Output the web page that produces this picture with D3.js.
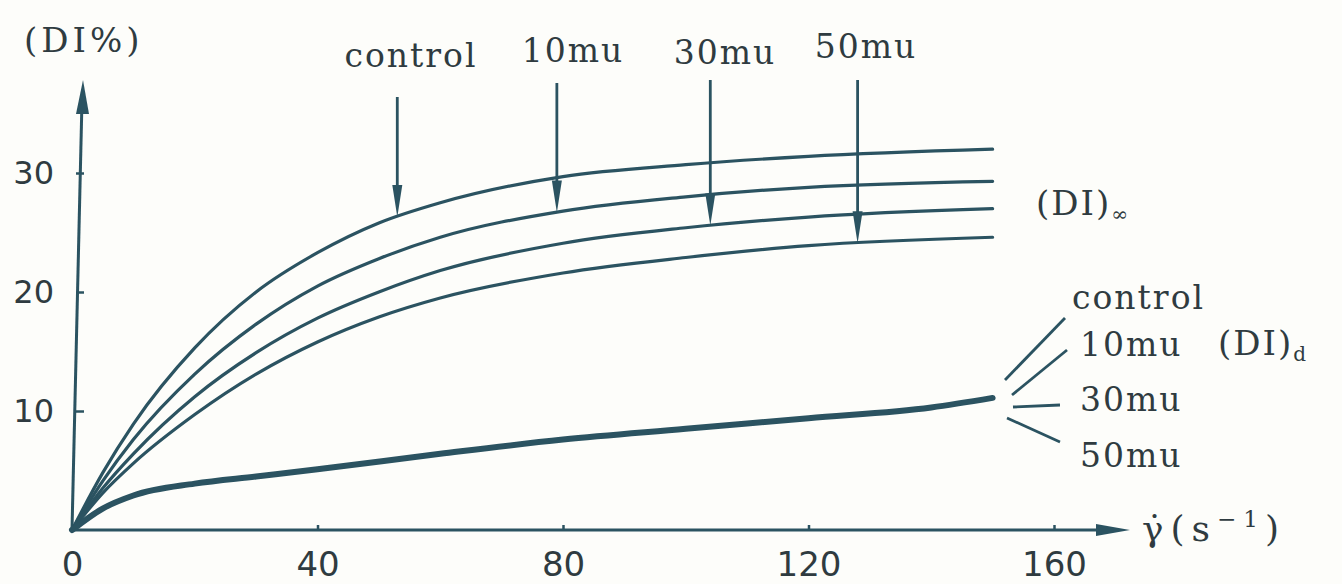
<!DOCTYPE html>
<html>
<head>
<meta charset="utf-8">
<script src="https://cdn.jsdelivr.net/npm/d3@7"></script>
<style>
  body { margin: 0; background: #fdfdfa; }
  svg { display: block; }
</style>
</head>
<body>
<svg></svg>
<script>
const width = 1342;
const height = 584;

// shear rate (s^-1) sample points
const gammaPts = [0, 5, 10, 20, 30, 40, 50, 60, 80, 100, 120, 150];
// (DI)inf curves, one per group
const diInfControl = [0, 4.8, 8.9, 15.3, 20.0, 23.3, 25.8, 27.5, 29.7, 30.7, 31.4, 32.0];
const diInf10mu    = [0, 4.1, 7.6, 13.1, 17.3, 20.5, 22.8, 24.6, 26.8, 28.0, 28.8, 29.3];
const diInf30mu    = [0, 3.5, 6.4, 11.2, 14.9, 17.8, 20.0, 21.8, 24.1, 25.4, 26.3, 27.0];
const diInf50mu    = [0, 3.1, 5.6, 9.7, 13.1, 15.8, 17.9, 19.5, 21.6, 22.9, 23.9, 24.6];
// (DI)d curve, all four groups overlap
const diDGamma = [0, 5, 10, 20, 30, 40, 60, 80, 100, 120, 140, 150];
const diD      = [0, 1.8, 2.9, 3.9, 4.5, 5.1, 6.4, 7.6, 8.5, 9.4, 10.3, 11.1];

const groups = ["control", "10mu", "30mu", "50mu"];
const arrowGamma = [53, 79, 104, 128];   // where each top arrow hits its curve
const xTicks = [0, 40, 80, 120, 160];
const yTicks = [10, 20, 30];

const ink = "#2b5361";
const textInk = "#2f3b40";

const svg = d3.select("svg")
  .attr("width", width)
  .attr("height", height);

svg.append("rect")
  .attr("width", width)
  .attr("height", height)
  .attr("fill", "#fdfdfa");

const x = d3.scaleLinear().domain([0, 160]).range([72, 1054]);
const y = d3.scaleLinear().domain([0, 30]).range([530, 173]);

// x axis
const xAxis = svg.append("g")
  .attr("transform", `translate(0,${y(0)})`)
  .call(d3.axisBottom(x).tickValues(xTicks).tickSize(-5).tickPadding(22).tickSizeOuter(0));
xAxis.select(".domain").remove();
xAxis.selectAll(".tick line").attr("stroke", ink).attr("stroke-width", 2.5);
xAxis.selectAll(".tick text")
  .attr("fill", textInk)
  .attr("font-family", "DejaVu Sans")
  .attr("font-size", 34);

const xEnd = 1130;
svg.append("line")
  .attr("x1", x(0)).attr("y1", y(0))
  .attr("x2", xEnd - 20).attr("y2", y(0))
  .attr("stroke", ink).attr("stroke-width", 3);
svg.append("path")
  .attr("d", `M${xEnd},${y(0)} L${xEnd - 34},${y(0) - 6} L${xEnd - 34},${y(0) + 6} Z`)
  .attr("fill", ink);

// y axis
const yAxis = svg.append("g")
  .attr("transform", `translate(${x(0) + 4},0)`)
  .call(d3.axisLeft(y).tickValues(yTicks).tickSize(-8).tickPadding(22).tickSizeOuter(0));
yAxis.select(".domain").remove();
yAxis.selectAll(".tick line").attr("stroke", ink).attr("stroke-width", 2.5);
yAxis.selectAll(".tick text")
  .attr("fill", textInk)
  .attr("font-family", "DejaVu Sans")
  .attr("font-size", 32);

const yTop = 80;
svg.append("line")
  .attr("x1", x(0)).attr("y1", y(0))
  .attr("x2", x(0) + 10).attr("y2", yTop + 20)
  .attr("stroke", ink).attr("stroke-width", 3);
svg.append("path")
  .attr("d", `M${x(0) + 11},${yTop} L${x(0) + 4},${yTop + 34} L${x(0) + 17},${yTop + 34} Z`)
  .attr("fill", ink);

svg.append("text")
  .attr("x", 24).attr("y", 52)
  .attr("fill", textInk)
  .attr("font-family", "DejaVu Serif")
  .attr("font-size", 34)
  .attr("letter-spacing", 4)
  .text("(DI%)");

// curves
const line = d3.line()
  .x(d => x(d[0]))
  .y(d => y(d[1]))
  .curve(d3.curveMonotoneX);

const infSeries = [diInfControl, diInf10mu, diInf30mu, diInf50mu].map((vals, i) => ({
  name: groups[i],
  points: gammaPts.map((g, j) => [g, vals[j]])
}));

svg.append("g").selectAll("path")
  .data(infSeries)
  .enter()
  .append("path")
  .attr("d", d => line(d.points))
  .attr("fill", "none")
  .attr("stroke", ink)
  .attr("stroke-width", 3.2)
  .attr("stroke-linecap", "round");

svg.append("path")
  .attr("d", line(diDGamma.map((g, j) => [g, diD[j]])))
  .attr("fill", "none")
  .attr("stroke", ink)
  .attr("stroke-width", 6)
  .attr("stroke-linecap", "round");

// value of a curve at g, linear between read points
function valueAt(points, g) {
  const i = d3.bisector(p => p[0]).right(points, g) - 1;
  const a = points[Math.max(0, i)];
  const b = points[Math.min(points.length - 1, i + 1)];
  if (a[0] === b[0]) return a[1];
  return a[1] + (b[1] - a[1]) * (g - a[0]) / (b[0] - a[0]);
}

// top labels with arrows pointing at their curve
const topLabelX = [411, 573, 725, 866];
const topLabelY = [67, 62, 64, 58];
const arrowTop = [97, 83, 80, 80];

infSeries.forEach((s, i) => {
  const ax = x(arrowGamma[i]);
  const tip = y(valueAt(s.points, arrowGamma[i]));
  svg.append("line")
    .attr("x1", ax).attr("y1", arrowTop[i])
    .attr("x2", ax).attr("y2", tip - 20)
    .attr("stroke", ink).attr("stroke-width", 2.8);
  svg.append("path")
    .attr("d", `M${ax},${tip} L${ax - 5},${tip - 32} L${ax + 5},${tip - 32} Z`)
    .attr("fill", ink);
  svg.append("text")
    .attr("x", topLabelX[i]).attr("y", topLabelY[i])
    .attr("text-anchor", "middle")
    .attr("fill", textInk)
    .attr("font-family", "DejaVu Serif")
    .attr("font-size", 33)
    .attr("letter-spacing", 2)
    .text(s.name);
});

// (DI) infinity label
const infLabel = svg.append("text")
  .attr("x", 1036).attr("y", 215)
  .attr("fill", textInk)
  .attr("font-family", "DejaVu Serif")
  .attr("font-size", 34)
  .attr("letter-spacing", 2);
infLabel.append("tspan").text("(DI)");
infLabel.append("tspan").attr("font-size", 20).attr("dy", 6).text("∞");

// right labels for the overlapping (DI)d curves
const leaders = [
  [[1005, 380], [1065, 318]],
  [[1012, 395], [1067, 350]],
  [[1013, 407], [1060, 405]],
  [[1007, 418], [1060, 442]]
];
const rightLabelX = [1072, 1080, 1080, 1080];
const rightLabelY = [309, 356, 411, 467];

groups.forEach((g, i) => {
  svg.append("line")
    .attr("x1", leaders[i][0][0]).attr("y1", leaders[i][0][1])
    .attr("x2", leaders[i][1][0]).attr("y2", leaders[i][1][1])
    .attr("stroke", ink).attr("stroke-width", 2.8);
  svg.append("text")
    .attr("x", rightLabelX[i]).attr("y", rightLabelY[i])
    .attr("fill", textInk)
    .attr("font-family", "DejaVu Serif")
    .attr("font-size", 33)
    .attr("letter-spacing", 2)
    .text(g);
});

const dLabel = svg.append("text")
  .attr("x", 1218).attr("y", 355)
  .attr("fill", textInk)
  .attr("font-family", "DejaVu Serif")
  .attr("font-size", 34)
  .attr("letter-spacing", 2);
dLabel.append("tspan").text("(DI)");
dLabel.append("tspan").attr("font-size", 20).attr("dy", 6).text("d");

// shear rate axis title
const xTitle = svg.append("text")
  .attr("x", xEnd + 12).attr("y", y(0) + 11)
  .attr("fill", textInk)
  .attr("font-family", "DejaVu Serif")
  .attr("font-size", 36)
  .attr("letter-spacing", 7);
xTitle.append("tspan").text("γ\u0307(s");
xTitle.append("tspan").attr("font-size", 23).attr("dy", -14).text("−1");
xTitle.append("tspan").attr("dy", 14).text(")");
</script>
</body>
</html>
